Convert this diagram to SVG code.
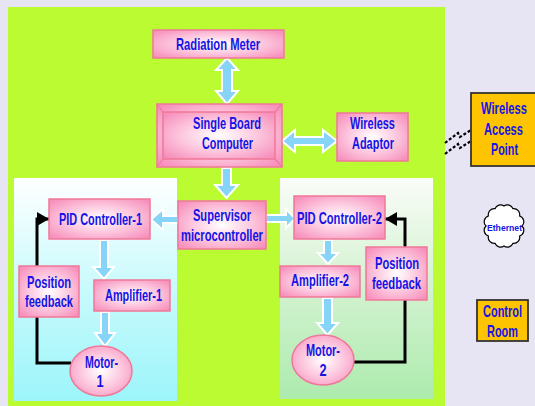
<svg xmlns="http://www.w3.org/2000/svg" width="535" height="406" viewBox="0 0 535 406">
<defs>
<radialGradient id="pink" cx="50%" cy="50%" r="65%">
<stop offset="0" stop-color="#FFFFFF"/>
<stop offset="0.55" stop-color="#FCC4DC"/>
<stop offset="1" stop-color="#F78FBC"/>
</radialGradient>
<linearGradient id="cyanG" x1="0" y1="0" x2="0" y2="1">
<stop offset="0" stop-color="#FFFFFF"/>
<stop offset="0.5" stop-color="#C8FAFC"/>
<stop offset="1" stop-color="#9CF5FA"/>
</linearGradient>
<linearGradient id="greenG" x1="0" y1="0" x2="0" y2="1">
<stop offset="0" stop-color="#FAFCF8"/>
<stop offset="0.5" stop-color="#D2F2D0"/>
<stop offset="1" stop-color="#ADEBAE"/>
</linearGradient>
<marker id="tri" viewBox="0 0 12 14" refX="12" refY="7" markerWidth="12" markerHeight="14" markerUnits="userSpaceOnUse" orient="auto">
<path d="M0,0 L12,7 L0,14 Z" fill="#000"/>
</marker>
<style>
.box{fill:url(#pink);stroke:#F07898;stroke-width:1.5}
.lbl{font-family:"Liberation Sans",Arial,sans-serif;font-weight:bold;font-size:16px;fill:#1414E6;text-anchor:middle}
.small{font-size:9px}
.barrow{fill:#86D4F8;stroke:#FFFFFF;stroke-width:2;stroke-linejoin:miter}
.fb{fill:none;stroke:#000;stroke-width:3}
.orange{fill:#FFC400;stroke:#333;stroke-width:1.8}
.dash{fill:none;stroke:#000;stroke-width:2.2;stroke-dasharray:3,2}
.bevel{stroke:#F07898;stroke-width:1.2}
</style>
</defs>
<rect x="0" y="0" width="535" height="406" fill="#E7E4F4"/>
<rect x="8" y="7" width="437" height="399" fill="#BBFB32"/>
<rect x="14" y="178" width="163" height="223" fill="url(#cyanG)"/>
<rect x="280" y="178" width="153" height="221" fill="url(#greenG)"/>

<g id="connectors">
<polygon class="barrow" points="227,58 238,70 232,70 232,91 238,91 227,104 216,91 222,91 222,70 216,70"/>
<polygon class="barrow" points="282,141 295,130 295,137 323,137 323,130 337,141 323,152 323,145 295,145 295,152"/>
<polygon class="barrow" points="222,168 231,168 231,185 238,185 226.5,198 215,185 222,185"/>
<polygon class="barrow" points="178,216 163,216 163,209 151,219.5 163,230 163,223 178,223"/>
<polygon class="barrow" points="266,215 286,215 286,209 295,218.5 286,228 286,222 266,222"/>
<polygon class="barrow" points="100,240 108,240 108,267 114,267 104,279 93,267 100,267"/>
<polygon class="barrow" points="101,312 109,312 109,333 115,333 105,346 95,333 101,333"/>
<polygon class="barrow" points="324,240 332,240 332,253 338,253 328,264 318,253 324,253"/>
<polygon class="barrow" points="323,298 332,298 332,323 338,323 327.5,335 317,323 323,323"/>
<path class="fb" d="M71,363 H37 V219 H49" marker-end="url(#tri)"/>
<path class="fb" d="M354,362 H405 V219 H385" marker-end="url(#tri)"/>
<path class="dash" d="M445,143 L458,133 L460,137 L471,130"/>
<path class="dash" d="M445,154 L458,144 L460,148 L471,141"/>
</g>

<g id="radiation-meter">
<rect class="box" x="153" y="30" width="131" height="28"/>
<text class="lbl" transform="translate(218,50) scale(0.7,1)" textLength="120" lengthAdjust="spacingAndGlyphs">Radiation Meter</text>
</g>

<g id="single-board-computer">
<rect class="box" x="157" y="104" width="125" height="63"/>
<line class="bevel" x1="157" y1="104" x2="163" y2="112"/>
<line class="bevel" x1="282" y1="104" x2="275" y2="112"/>
<line class="bevel" x1="157" y1="167" x2="163" y2="159"/>
<line class="bevel" x1="282" y1="167" x2="275" y2="159"/>
<rect class="box" x="163" y="112" width="112" height="47"/>
<text class="lbl" transform="translate(227,129) scale(0.7,1)" textLength="97" lengthAdjust="spacingAndGlyphs">Single Board</text>
<text class="lbl" transform="translate(227.5,149) scale(0.7,1)" textLength="73" lengthAdjust="spacingAndGlyphs">Computer</text>
</g>

<g id="wireless-adaptor">
<rect class="box" x="337" y="113" width="71" height="48"/>
<text class="lbl" transform="translate(372.5,129) scale(0.7,1)" textLength="64" lengthAdjust="spacingAndGlyphs">Wireless</text>
<text class="lbl" transform="translate(373,149) scale(0.7,1)" textLength="60" lengthAdjust="spacingAndGlyphs">Adaptor</text>
</g>

<g id="supervisor">
<rect class="box" x="178" y="201" width="88" height="48"/>
<text class="lbl" transform="translate(222,221) scale(0.7,1)" textLength="83" lengthAdjust="spacingAndGlyphs">Supervisor</text>
<text class="lbl" transform="translate(222,241) scale(0.7,1)" textLength="117" lengthAdjust="spacingAndGlyphs">microcontroller</text>
</g>

<g id="pid1">
<rect class="box" x="49" y="199" width="101" height="40"/>
<text class="lbl" transform="translate(100.5,225) scale(0.7,1)" textLength="118.6" lengthAdjust="spacingAndGlyphs">PID Controller-1</text>
</g>

<g id="position-feedback-1">
<rect class="box" x="19" y="266" width="60" height="51"/>
<text class="lbl" transform="translate(49,288) scale(0.7,1)" textLength="63" lengthAdjust="spacingAndGlyphs">Position</text>
<text class="lbl" transform="translate(49,307) scale(0.7,1)" textLength="68.6" lengthAdjust="spacingAndGlyphs">feedback</text>
</g>

<g id="amplifier-1">
<rect class="box" x="94" y="280" width="76" height="31"/>
<text class="lbl" transform="translate(133.5,301) scale(0.7,1)" textLength="81.4" lengthAdjust="spacingAndGlyphs">Amplifier-1</text>
</g>

<g id="motor-1">
<ellipse class="box" cx="101" cy="371" rx="31" ry="25"/>
<text class="lbl" transform="translate(101.5,368) scale(0.7,1)" textLength="47" lengthAdjust="spacingAndGlyphs">Motor-</text>
<text class="lbl" transform="translate(100,387) scale(0.8,1)">1</text>
</g>

<g id="pid2">
<rect class="box" x="294" y="196" width="91" height="43"/>
<text class="lbl" transform="translate(339.5,224) scale(0.7,1)" textLength="121.4" lengthAdjust="spacingAndGlyphs">PID Controller-2</text>
</g>

<g id="amplifier-2">
<rect class="box" x="280" y="266" width="80" height="31"/>
<text class="lbl" transform="translate(320,286) scale(0.7,1)" textLength="82.9" lengthAdjust="spacingAndGlyphs">Amplifier-2</text>
</g>

<g id="position-feedback-2">
<rect class="box" x="366" y="247" width="61" height="53"/>
<text class="lbl" transform="translate(397,269) scale(0.7,1)" textLength="63" lengthAdjust="spacingAndGlyphs">Position</text>
<text class="lbl" transform="translate(396.5,289) scale(0.7,1)" textLength="70" lengthAdjust="spacingAndGlyphs">feedback</text>
</g>

<g id="motor-2">
<ellipse class="box" cx="323" cy="360" rx="31" ry="25"/>
<text class="lbl" transform="translate(323,356) scale(0.7,1)" textLength="48.6" lengthAdjust="spacingAndGlyphs">Motor-</text>
<text class="lbl" transform="translate(323,376) scale(0.8,1)">2</text>
</g>

<g id="wireless-access-point">
<rect class="orange" x="471" y="93" width="67" height="73"/>
<text class="lbl" transform="translate(504,114) scale(0.7,1)" textLength="65.7" lengthAdjust="spacingAndGlyphs">Wireless</text>
<text class="lbl" transform="translate(503.5,135) scale(0.7,1)" textLength="55.7" lengthAdjust="spacingAndGlyphs">Access</text>
<text class="lbl" transform="translate(504.5,155) scale(0.7,1)" textLength="38.6" lengthAdjust="spacingAndGlyphs">Point</text>
</g>

<g id="ethernet">
<path d="M522,226 A6,6 0 0 1 519.6,236 A6,6 0 0 1 513,243.3 A6,6 0 0 1 504,246 A6,6 0 0 1 495,243.3 A6,6 0 0 1 488.4,236 A6,6 0 0 1 486,226 A6,6 0 0 1 488.4,216 A6,6 0 0 1 495,208.7 A6,6 0 0 1 504,206 A6,6 0 0 1 513,208.7 A6,6 0 0 1 519.6,216 A6,6 0 0 1 522,226 Z" fill="#FFFFFF" stroke="#000" stroke-width="1.2"/>
<text class="lbl small" transform="translate(504.5,231) scale(0.8,1)" textLength="43.8" lengthAdjust="spacingAndGlyphs">Ethernet</text>
</g>

<g id="control-room">
<rect class="orange" x="477" y="300" width="51" height="41"/>
<text class="lbl" transform="translate(502.5,317) scale(0.7,1)" textLength="55.7" lengthAdjust="spacingAndGlyphs">Control</text>
<text class="lbl" transform="translate(502.5,337) scale(0.7,1)" textLength="44.3" lengthAdjust="spacingAndGlyphs">Room</text>
</g>
</svg>
